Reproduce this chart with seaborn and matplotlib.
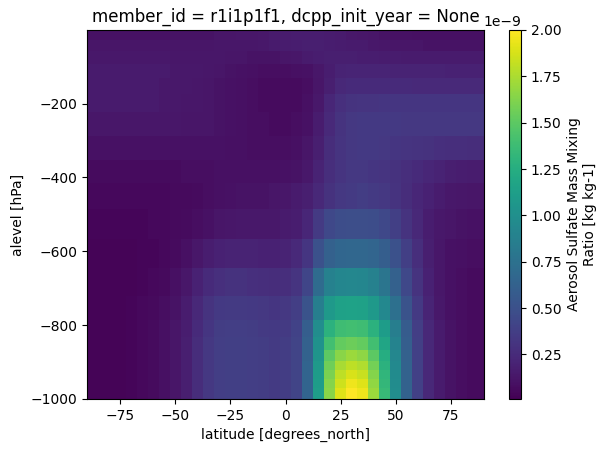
import numpy as np
import matplotlib
matplotlib.use("Agg")
import matplotlib.pyplot as plt
import seaborn as sns

lats = [-90, -85, -80, -75, -70, -65, -60, -55, -50, -45, -40, -35, -30, -25, -20, -15, -10, -5,
        0, 5, 10, 15, 20, 25, 30, 35, 40, 45, 50, 55, 60, 65, 70, 75, 80, 85, 90]
levels = [-13, -40, -75, -112, -150, -196, -250, -324, -380, -448, -525, -606, -687, -757,
          -813, -853, -882, -910, -935, -955, -985]
# values in 1e-9 kg kg-1, one row per level
so4 = [
 [.10,.10,.10,.10,.10,.10,.10,.10,.11,.11,.11,.11,.12,.12,.13,.13,.14,.15,.16,.17,.17,.17,.16,.15,.14,.13,.12,.11,.10,.10,.09,.09,.09,.09,.09,.09,.09],
 [.12,.12,.12,.12,.12,.12,.12,.12,.12,.12,.12,.12,.13,.13,.13,.13,.14,.15,.16,.17,.18,.18,.17,.16,.15,.15,.14,.13,.12,.12,.12,.11,.11,.11,.11,.11,.11],
 [.14,.14,.14,.14,.14,.14,.14,.14,.13,.13,.13,.13,.13,.12,.12,.11,.11,.11,.12,.13,.15,.17,.18,.18,.18,.17,.17,.16,.16,.15,.15,.15,.15,.15,.15,.15,.15],
 [.15,.15,.15,.15,.15,.15,.15,.15,.14,.14,.14,.13,.12,.11,.10,.09,.08,.08,.08,.09,.10,.13,.17,.20,.21,.21,.21,.21,.20,.20,.20,.20,.20,.19,.19,.19,.19],
 [.15,.15,.15,.15,.15,.15,.15,.14,.14,.14,.13,.12,.11,.10,.09,.08,.07,.07,.07,.07,.08,.12,.18,.23,.25,.25,.25,.25,.25,.25,.24,.24,.24,.24,.24,.24,.24],
 [.15,.15,.15,.15,.15,.15,.15,.14,.14,.13,.13,.12,.11,.10,.09,.08,.07,.07,.07,.07,.09,.14,.22,.28,.30,.31,.31,.32,.32,.32,.32,.32,.32,.32,.32,.32,.32],
 [.13,.13,.13,.13,.13,.13,.13,.13,.13,.12,.12,.12,.11,.10,.09,.08,.08,.07,.07,.08,.10,.16,.24,.30,.33,.34,.34,.34,.34,.33,.33,.33,.33,.33,.33,.33,.33],
 [.10,.10,.10,.10,.10,.10,.10,.10,.10,.10,.10,.10,.10,.09,.09,.08,.08,.08,.08,.09,.12,.18,.26,.31,.33,.34,.34,.33,.32,.31,.30,.29,.28,.27,.27,.26,.26],
 [.07,.07,.07,.07,.07,.07,.07,.07,.07,.08,.08,.08,.09,.09,.09,.09,.09,.09,.10,.11,.14,.20,.27,.31,.33,.33,.32,.31,.29,.27,.25,.22,.20,.18,.17,.16,.16],
 [.05,.05,.05,.05,.05,.05,.05,.05,.06,.06,.07,.08,.09,.10,.11,.11,.11,.12,.13,.15,.18,.23,.29,.33,.35,.36,.35,.33,.30,.26,.22,.19,.16,.14,.13,.12,.12],
 [.04,.04,.04,.04,.04,.04,.05,.05,.06,.07,.08,.10,.12,.13,.14,.14,.14,.14,.15,.17,.22,.35,.44,.47,.48,.48,.47,.44,.38,.30,.23,.17,.14,.12,.11,.10,.10],
 [.03,.03,.03,.03,.03,.04,.04,.05,.07,.09,.13,.17,.19,.20,.20,.20,.19,.19,.20,.24,.32,.50,.62,.66,.67,.67,.65,.60,.50,.38,.27,.18,.13,.10,.09,.08,.08],
 [.03,.03,.03,.03,.03,.04,.05,.06,.09,.13,.19,.25,.28,.29,.29,.28,.27,.26,.27,.31,.42,.70,.88,.92,.93,.92,.88,.78,.62,.44,.30,.19,.13,.10,.08,.07,.07],
 [.03,.03,.03,.03,.04,.05,.06,.08,.11,.16,.23,.30,.34,.35,.35,.34,.33,.32,.33,.37,.52,.85,1.08,1.15,1.16,1.15,1.08,.94,.74,.52,.34,.21,.14,.10,.08,.07,.07],
 [.03,.03,.03,.03,.04,.05,.07,.09,.12,.17,.25,.32,.36,.37,.37,.36,.35,.34,.35,.40,.60,.98,1.28,1.38,1.40,1.38,1.28,1.10,.85,.58,.37,.23,.15,.11,.08,.07,.07],
 [.03,.03,.03,.03,.04,.05,.07,.09,.12,.18,.26,.33,.37,.38,.38,.37,.36,.35,.36,.41,.62,1.02,1.40,1.52,1.55,1.52,1.40,1.18,.90,.60,.38,.23,.15,.11,.08,.07,.07],
 [.03,.03,.03,.03,.04,.05,.07,.09,.12,.18,.26,.33,.37,.38,.38,.37,.36,.35,.36,.41,.63,1.05,1.50,1.65,1.70,1.66,1.50,1.24,.93,.62,.39,.23,.15,.11,.08,.07,.07],
 [.03,.03,.03,.03,.04,.05,.07,.09,.12,.18,.26,.33,.37,.38,.38,.37,.36,.35,.36,.41,.64,1.08,1.56,1.74,1.80,1.76,1.58,1.28,.95,.63,.39,.23,.15,.11,.08,.07,.07],
 [.03,.03,.03,.03,.04,.05,.07,.09,.12,.18,.26,.33,.37,.38,.38,.37,.36,.35,.36,.41,.64,1.10,1.60,1.80,1.88,1.83,1.63,1.31,.96,.63,.39,.23,.15,.11,.08,.07,.07],
 [.03,.03,.03,.03,.04,.05,.07,.09,.12,.18,.26,.33,.37,.38,.38,.37,.36,.35,.36,.41,.64,1.11,1.63,1.85,1.95,1.90,1.67,1.33,.97,.63,.39,.23,.15,.11,.08,.07,.07],
 [.03,.03,.03,.03,.04,.05,.07,.09,.12,.18,.26,.33,.37,.38,.38,.37,.36,.35,.36,.41,.64,1.12,1.65,1.90,2.00,1.95,1.70,1.35,.98,.63,.39,.23,.15,.11,.08,.07,.07],
]

plt.rcdefaults()
fig = plt.figure(figsize=(6.12, 4.53), dpi=100)
ax = fig.add_axes([87/612, 1-399/453, 397/612, 369/453])
cax = fig.add_axes([509/612, 1-399/453, 12/612, 369/453])
Z = np.array(so4) * 1e-9
mesh = ax.pcolormesh(lats, levels, Z, cmap=sns.color_palette("viridis", as_cmap=True),
                     shading="nearest", vmin=0.01e-9, vmax=2.0e-9)
ax.set_xlim(-90, 90)
ax.set_ylim(-1000, -0.5)
ax.set_xticks([-75, -50, -25, 0, 25, 50, 75])
ax.set_xlabel("latitude [degrees_north]")
ax.set_ylabel("alevel [hPa]")
ax.set_title("member_id = r1i1p1f1, dcpp_init_year = None")
cb = fig.colorbar(mesh, cax=cax)
cb.set_label("Aerosol Sulfate Mass Mixing\nRatio [kg kg-1]")
fig.savefig("out.png", dpi=100)
